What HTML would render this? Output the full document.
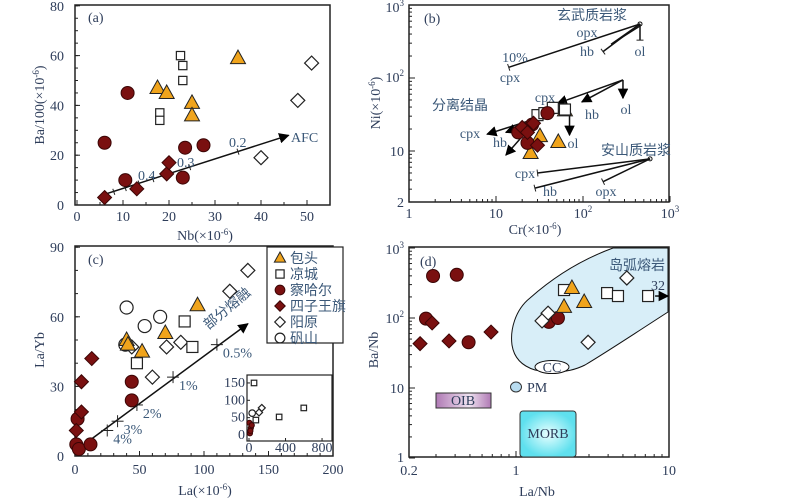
<!DOCTYPE html>
<html><head><meta charset="utf-8"><style>
body{margin:0;background:#fff;}
svg{display:block;font-family:"Liberation Serif","Noto Serif CJK SC",serif;}
.t{fill:#2e3d5a;font-size:14px;}
.lab{fill:#3b5878;font-size:14px;}
.cn{font-family:"Liberation Serif","Noto Sans CJK SC",sans-serif;fill:#3b5878;font-size:14px;}
</style></head><body>
<svg id="fig" width="800" height="499" viewBox="0 0 800 499" xmlns="http://www.w3.org/2000/svg">
<defs>
<marker id="ah" viewBox="0 0 10 10" refX="9" refY="5" markerWidth="7" markerHeight="7" orient="auto"><path d="M0,0L10,5L0,10z" fill="#000"/></marker>
<linearGradient id="oib" x1="0" x2="1"><stop offset="0" stop-color="#b07ab5"/><stop offset="0.6" stop-color="#efe2f0"/><stop offset="1" stop-color="#b07ab5"/></linearGradient>
<radialGradient id="morb"><stop offset="0" stop-color="#e8ffff"/><stop offset="1" stop-color="#5fe0ee"/></radialGradient>
</defs>
</svg>
<script>
// ---------- data panel (a): Nb vs Ba/100 ----------
const aTriNb=[17.5,19.5,25,25,35], aTriBa=[47,45,41,36,59];
const aSqNb=[22.5,23,23,18,18], aSqBa=[60,56,50,37,34];
const aCirNb=[11,6,10.5,23,23.5,27.5], aCirBa=[45,25,10,11,23,24];
const aDiaNb=[6,13,19.5,20], aDiaBa=[3,6.5,12.5,17];
const aOdiNb=[40,48,51], aOdiBa=[19,42,57];
const aXTicks=[0,10,20,30,40,50], aYTicks=[0,20,40,60,80];
// ---------- panel (b): Cr vs Ni ----------
const bTriCr=[62,32,52,25], bTriNi=[36,16,13.3,9.4];
const bSqCr=[45,30,62,36], bSqNi=[39,31,37,33];
const bCirCr=[39,18,23,26], bCirNi=[33,18,12.9,23];
const bDiaCr=[20,27,30,23], bDiaNi=[21,24,12,18];
// ---------- panel (c): La vs La/Yb ----------
const cTriLa=[40,41,52,70,95], cTriLY=[50,48,45,53,65];
const cSqLa=[85,91,48], cSqLY=[58,47,40];
const cCirLa=[44,44,2,1,3,12], cCirLY=[32,24,16,5,3,5];
const cDiaLa=[13,5,5,1], cDiaLY=[42,32,19,11];
const cOdiLa=[134,120,82,71,60,44], cOdiLY=[80,71,49,47,34,47];
const cOciLa=[40,54,66,39], cOciLY=[64,56,60,48];
const cMeltLa=[25,33,48,76,110], cMeltLY=[11,15,22,34,48], cMeltLbl=["4%","3%","2%","1%","0.5%"];
const iSqLa=[55,330,600,75], iSqLY=[150,52,78,43];
const iOdiLa=[140,110], iOdiLY=[78,65];
const iOciLa=[35], iOciLY=[63];
const iDkLa=[10,20,5,30,15], iDkLY=[5,20,35,28,12];
const cXTicks=[0,50,100,150,200], cYTicks=[0,30,60,90];
// ---------- panel (d): La/Nb vs Ba/Nb ----------
const dCirX=[0.287,0.41,0.258,0.49,1.64,1.88], dCirY=[398,414,98,45,88,100];
const dDiaX=[0.236,0.283,0.365,0.687], dDiaY=[43,85,47,63];
const dTriX=[2.32,2.06,2.79], dTriY=[268,144,169];
const dSqX=[2.06,3.94,4.64,7.3], dSqY=[251,227,206,206];
const dOdiX=[5.3,1.62,1.48,2.96], dOdiY=[373,117,91,45];

const NS="http://www.w3.org/2000/svg";
const svg=document.getElementById('fig');
function S(tag,at,p){const e=document.createElementNS(NS,tag);for(const k in at)e.setAttribute(k,at[k]);(p||svg).appendChild(e);return e;}
function T(txt,x,y,cls,anchor,p){const e=S('text',{x:x,y:y,'class':cls,'text-anchor':anchor||'middle'},p);e.textContent=txt;return e;}
const L10=Math.log10;
const ax=v=>77+v*4.6, ay=v=>205-v*2.49;
const bx=v=>409+87*L10(v), by=v=>151-73*(L10(v)-1);
const cx=v=>75+v*1.29, cy=v=>456-v*2.32;
const ix=v=>249+v*0.0913, iy=v=>435-v*0.347;
const dx=v=>516+153*L10(v), dy=v=>318-70*(L10(v)-2);

function marker(type,x,y,s,p){
  s=s||1;let e;
  if(type==='tri') e=S('path',{d:`M${x},${y-8*s}L${x+7.5*s},${y+5.5*s}L${x-7.5*s},${y+5.5*s}Z`,fill:'#f0a41c',stroke:'#222','stroke-width':1},p);
  else if(type==='sq') e=S('rect',{x:x-5.5*s,y:y-5.5*s,width:11*s,height:11*s,fill:'#fff',stroke:'#222','stroke-width':1.2},p);
  else if(type==='cir') e=S('circle',{cx:x,cy:y,r:6.5*s,fill:'#7a1010',stroke:'#3a0505','stroke-width':1},p);
  else if(type==='dia') e=S('path',{d:`M${x},${y-7*s}L${x+7*s},${y}L${x},${y+7*s}L${x-7*s},${y}Z`,fill:'#7a1010',stroke:'#3a0505','stroke-width':1},p);
  else if(type==='odi') e=S('path',{d:`M${x},${y-7*s}L${x+7*s},${y}L${x},${y+7*s}L${x-7*s},${y}Z`,fill:'#fff',stroke:'#222','stroke-width':1.2},p);
  else e=S('circle',{cx:x,cy:y,r:6.5*s,fill:'#fff',stroke:'#222','stroke-width':1.2},p);
  return e;
}
function series(type,xs,ys,fx,fy,name,s){
  const g=S('g',{});
  
  
  xs.forEach((v,i)=>{const m=marker(type,fx(v),fy(ys[i]),s,g);
    
    });
}
function frame(x1,y1,x2,y2,name){
  const r=S('rect',{x:x1,y:y1,width:x2-x1,height:y2-y1,fill:'none',stroke:'#222','stroke-width':1.5});
  
  
}
function tick(x1,y1,x2,y2){S('line',{x1:x1,y1:y1,x2:x2,y2:y2,stroke:'#222','stroke-width':1});}
function line(x1,y1,x2,y2,arrow,name){
  const e=S('line',{x1:x1,y1:y1,x2:x2,y2:y2,stroke:'#111','stroke-width':1.5});
  if(arrow)e.setAttribute('marker-end','url(#ah)');
  
  
  return e;
}
function bar(x1,y1,x2,y2){
  const dxl=x2-x1,dyl=y2-y1,len=Math.hypot(dxl,dyl),nx=-dyl/len*3.5,ny=dxl/len*3.5;
  tick(x2-nx,y2-ny,x2+nx,y2+ny);
}
function lbl(txt,x,y,name,cls,anchor){
  const e=T(txt,x,y,cls||'lab',anchor);
  
  
  return e;
}

// ================= Panel (a) =================
frame(75,5,330,205,'panel-a-frame');
aYTicks.forEach(v=>{tick(75,ay(v),80,ay(v));const e=T(v,64,ay(v)+5,'t','end');
  
  });
for(let v=0;v<=80;v+=5)tick(75,ay(v),78,ay(v));
aXTicks.forEach(v=>{tick(ax(v),205,ax(v),200);const e=T(v,ax(v),221,'t');
  
  });
for(let v=0;v<=55;v+=5)tick(ax(v),205,ax(v),202);
lbl('(a)',88,22,'panel-a-label','t','start');
{const e=S('text',{x:0,y:0,'class':'t',transform:'translate(44,105) rotate(-90)','text-anchor':'middle'});e.innerHTML='Ba/100(×10<tspan dy="-5" font-size="9">-6</tspan><tspan dy="5">)</tspan>';

}
{const e=S('text',{x:205,y:240,'class':'t','text-anchor':'middle'});e.innerHTML='Nb(×10<tspan dy="-5" font-size="9">-6</tspan><tspan dy="5">)</tspan>';

}
line(ax(5.5),ay(4),ax(46),ay(28),true,'afc-arrow');
[[8,5.3],[10.5,6.8],[13.5,8.6],[16.5,10.4],[24.5,15.2],[35,21.4]].forEach(p=>{const X=ax(p[0]),Y=ay(p[1]);tick(X-1,Y-3,X+1,Y+3);});
lbl('AFC',291,142,'afc-label','lab','start');
lbl('0.2',229,147,'afc-0.2-label','lab','start');
lbl('0.3',177,167,'afc-0.3-label','lab','start');
lbl('0.4',138,180,'afc-0.4-label','lab','start');
series('tri',aTriNb,aTriBa,ax,ay,'a-baotou');
series('sq',aSqNb,aSqBa,ax,ay,'a-liangcheng',0.75);
series('cir',aCirNb,aCirBa,ax,ay,'a-chahaer');
series('dia',aDiaNb,aDiaBa,ax,ay,'a-siziwangqi');
series('odi',aOdiNb,aOdiBa,ax,ay,'a-yangyuan');

// ================= Panel (b) =================
frame(409,5,669,202,'panel-b-frame');
[1,10,100,1000].forEach(d=>{tick(bx(d),202,bx(d),196);for(let k=2;k<10&&d<1000;k++)tick(bx(d*k),202,bx(d*k),199);});
[10,100,1000].forEach(d=>{tick(409,by(d),415,by(d));});
[2,3,4,5,6,7,8,9,20,30,40,50,60,70,80,90,200,300,400,500,600,700,800,900].forEach(v=>tick(409,by(v),412,by(v)));
{const e=T('1',bx(1),218,'t');}
{const e=T('10',bx(10),218,'t');}
{const e=S('text',{x:bx(100),y:218,'class':'t','text-anchor':'middle'});e.innerHTML='10<tspan dy="-6" font-size="9">2</tspan>';}
{const e=S('text',{x:bx(1000),y:218,'class':'t','text-anchor':'middle'});e.innerHTML='10<tspan dy="-6" font-size="9">3</tspan>';}
{const e=S('text',{x:404,y:12,'class':'t','text-anchor':'end'});e.innerHTML='10<tspan dy="-6" font-size="9">3</tspan>';}
{const e=S('text',{x:404,y:82,'class':'t','text-anchor':'end'});e.innerHTML='10<tspan dy="-6" font-size="9">2</tspan>';}
{const e=T('10',404,156,'t','end');}
{const e=T('2',404,207,'t','end');}
{const e=S('text',{x:0,y:0,'class':'t',transform:'translate(380,103) rotate(-90)','text-anchor':'middle'});e.innerHTML='Ni(×10<tspan dy="-5" font-size="9">-6</tspan><tspan dy="5">)</tspan>';
}
{const e=S('text',{x:535,y:234,'class':'t','text-anchor':'middle'});e.innerHTML='Cr(×10<tspan dy="-5" font-size="9">-6</tspan><tspan dy="5">)</tspan>';
}
lbl('(b)',424,23,'panel-b-label','t','start');
{const sx=bx(452),sy=by(550);
 S('circle',{cx:sx,cy:sy,r:2,fill:'none',stroke:'#111'});
 line(sx,sy,bx(14),by(140),false,'basalt-cpx-vector');bar(sx,sy,bx(14),by(140));
 line(sx,sy,bx(170),by(230),false,'basalt-hb-vector');bar(sx,sy,bx(170),by(230));
 line(sx,sy,bx(220),by(300),false,'basalt-opx-vector');line(sx,sy+2,bx(210),by(290),false,'basalt-opx-vector2');
 line(sx,sy,sx,by(330),false,'basalt-ol-vector');bar(sx,sy,sx,by(330));
}
lbl('玄武质岩浆',592,20,'basalt-magma-label','cn');
lbl('opx',587,37,'opx-label-1');lbl('hb',587,56,'hb-label-1');lbl('ol',640,56,'ol-label-1');
lbl('10%',515,62,'ten-percent-label');lbl('cpx',510,82,'cpx-label-1');
{const sx=bx(288),sy=by(94);
 line(sx,sy,bx(51),by(45),true,'fc-cpx-arrow-1');
 line(sx,sy,bx(97),by(47),true,'fc-hb-arrow-1');
 line(sx,sy,sx,by(53),true,'fc-ol-arrow-1');}
{const sx=bx(70),sy=by(39);
 line(sx,sy,bx(7.9),by(17),true,'fc-cpx-arrow-2');
 line(sx,sy,bx(13),by(18),true,'fc-hb-arrow-2');
 line(sx,sy,sx,by(16.5),true,'fc-ol-arrow-2');
 line(bx(22),by(18),bx(13),by(8.8),true,'fc-hb-arrow-3');}
lbl('cpx',545,102,'cpx-label-2');lbl('hb',592,119,'hb-label-2');lbl('ol',626,114,'ol-label-2');
lbl('分离结晶',460,110,'fractional-crystallization-label','cn');
lbl('cpx',470,138,'cpx-label-3');lbl('hb',500,147,'hb-label-3');lbl('ol',573,148,'ol-label-3');
series('tri',bTriCr,bTriNi,bx,by,'b-baotou');
series('sq',bSqCr,bSqNi,bx,by,'b-liangcheng');
series('cir',bCirCr,bCirNi,bx,by,'b-chahaer');
series('dia',bDiaCr,bDiaNi,bx,by,'b-siziwangqi');
{const sx=bx(590),sy=by(7.8);
 S('circle',{cx:sx,cy:sy,r:2,fill:'none',stroke:'#111'});
 line(sx,sy,bx(30),by(5),false,'andesite-cpx-vector');bar(sx,sy,bx(30),by(5));
 line(sx,sy,bx(28),by(3.1),false,'andesite-hb-vector');bar(sx,sy,bx(28),by(3.1));
 line(sx,sy,bx(170),by(3.8),false,'andesite-opx-vector');bar(sx,sy,bx(170),by(3.8));}
lbl('安山质岩浆',636,155,'andesite-magma-label','cn');
lbl('cpx',525,178,'cpx-label-4');lbl('hb',550,196,'hb-label-4');lbl('opx',606,196,'opx-label-4');

// ================= Panel (c) =================
frame(75,246,333,456,'panel-c-frame');
cYTicks.forEach(v=>{tick(75,cy(v),80,cy(v));const e=T(v,64,cy(v)+5,'t','end');
  });
for(let v=0;v<=90;v+=10)tick(75,cy(v),78,cy(v));
cXTicks.forEach(v=>{tick(cx(v),456,cx(v),451);const e=T(v,cx(v),474,'t');
  });
for(let v=0;v<=200;v+=10)tick(cx(v),456,cx(v),453);
lbl('(c)',88,264,'panel-c-label','t','start');
{const e=T('La/Yb',0,0,'t');e.setAttribute('transform','translate(44,350) rotate(-90)');
 }
{const e=S('text',{x:205,y:495,'class':'t','text-anchor':'middle'});e.innerHTML='La(×10<tspan dy="-5" font-size="9">-6</tspan><tspan dy="5">)</tspan>';
}
line(cx(12),cy(7),cx(134),cy(57),true,'partial-melting-arrow');
cMeltLa.forEach((v,i)=>{const X=cx(v),Y=cy(cMeltLY[i]);tick(X-6,Y,X+6,Y);tick(X,Y-6,X,Y+6);
  const e=T(cMeltLbl[i],X+6,Y+13,'lab','start');
  });
{const e=T('部分熔融',0,0,'cn');e.setAttribute('transform','translate(230,312) rotate(-40)');
 }
series('odi',cOdiLa,cOdiLY,cx,cy,'c-yangyuan');
series('oci',cOciLa,cOciLY,cx,cy,'c-fanshan');
series('sq',cSqLa,cSqLY,cx,cy,'c-liangcheng');
series('tri',cTriLa,cTriLY,cx,cy,'c-baotou');
series('cir',cCirLa,cCirLY,cx,cy,'c-chahaer');
series('dia',cDiaLa,cDiaLY,cx,cy,'c-siziwangqi');
{const r=S('rect',{x:247,y:375,width:85,height:66,fill:'#fff',stroke:'#222','stroke-width':1.2});
 }
[0,400,800].forEach(v=>{tick(ix(v),441,ix(v),438);const e=T(v,ix(v),452,'t');e.setAttribute('font-size','11');
  });
[0,50,100,150].forEach(v=>{tick(247,iy(v),250,iy(v));const e=T(v,245,iy(v)+4,'t','end');e.setAttribute('font-size','11');
  });
series('sq',iSqLa,iSqLY,ix,iy,'inset-liangcheng',0.5);
series('odi',iOdiLa,iOdiLY,ix,iy,'inset-yangyuan',0.5);
series('oci',iOciLa,iOciLY,ix,iy,'inset-fanshan',0.5);
series('cir',iDkLa,iDkLY,ix,iy,'inset-chahaer',0.4);
{const g=S('g',{});
 const r=S('rect',{x:267,y:247,width:76,height:96,fill:'#fff',stroke:'#222','stroke-width':1.2},g);
 
 const items=[['tri','包头'],['sq','凉城'],['cir','察哈尔'],['dia','四子王旗'],['odi','阳原'],['oci','矾山']];
 items.forEach((it,i)=>{const Y=258+i*16;const m=marker(it[0],280,Y,0.75,g);
  
  const t=T(it[1],290,Y+5,'cn','start',g);
  });}

// ================= Panel (d) =================
{const p=S('path',{d:'M613,248 L668,248 L668,312 C640,330 610,350 585,365 C565,375 545,372 535,370 C522,366 514,358 512,345 C510,330 515,310 530,298 C548,282 575,262 613,248 Z',fill:'#d8eef8',stroke:'#111','stroke-width':1});
 }
frame(409,247,669,457,'panel-d-frame');
[1,10,100,1000].forEach(v=>tick(409,dy(v),415,dy(v)));
[2,3,4,5,6,7,8,9,20,30,40,50,60,70,80,90,200,300,400,500,600,700,800,900].forEach(v=>tick(409,dy(v),412,dy(v)));
[1,10].forEach(v=>tick(dx(v),457,dx(v),451));
[0.3,0.4,0.5,0.6,0.7,0.8,0.9,2,3,4,5,6,7,8,9].forEach(v=>tick(dx(v),457,dx(v),454));
[[0.2,'0.2'],[1,'1'],[10,'10']].forEach(p=>{const e=T(p[1],dx(p[0]),475,'t');
  });
{const e=T('1',404,462,'t','end');}
{const e=T('10',404,393,'t','end');}
{const e=S('text',{x:404,y:323,'class':'t','text-anchor':'end'});e.innerHTML='10<tspan dy="-6" font-size="9">2</tspan>';}
{const e=S('text',{x:404,y:254,'class':'t','text-anchor':'end'});e.innerHTML='10<tspan dy="-6" font-size="9">3</tspan>';}
{const e=T('Ba/Nb',0,0,'t');e.setAttribute('transform','translate(378,350) rotate(-90)');
 }
{const e=T('La/Nb',537,496,'t');}
lbl('(d)',420,266,'panel-d-label','t','start');
lbl('岛弧熔岩',609,270,'island-arc-label','cn','start');
{const e=S('ellipse',{cx:552,cy:367,rx:17,ry:6.5,fill:'#fff',stroke:'#111','stroke-width':1});}
lbl('CC',552,372,'cc-label','t');
{const e=S('ellipse',{cx:516,cy:387,rx:5.5,ry:5,fill:'#b8dcf0',stroke:'#333','stroke-width':1});}
lbl('PM',527,392,'pm-label','t','start');
{const e=S('rect',{x:436,y:393,width:55,height:15,fill:'url(#oib)',stroke:'#333','stroke-width':1});}
lbl('OIB',463,405,'oib-label','t');
{const e=S('rect',{x:520,y:411,width:56,height:46,rx:3,fill:'url(#morb)',stroke:'#333','stroke-width':1});}
lbl('MORB',548,438,'morb-label','t');
series('cir',dCirX,dCirY,dx,dy,'d-chahaer');
series('dia',dDiaX,dDiaY,dx,dy,'d-siziwangqi');
series('sq',dSqX,dSqY,dx,dy,'d-liangcheng');
series('tri',dTriX,dTriY,dx,dy,'d-baotou');
series('odi',dOdiX,dOdiY,dx,dy,'d-yangyuan');
line(dx(7.3)+7,dy(206),dx(7.3)+20,dy(206),true,'offscale-arrow');
lbl('32',651,290,'offscale-label','t','start');
</script>
</body></html>
